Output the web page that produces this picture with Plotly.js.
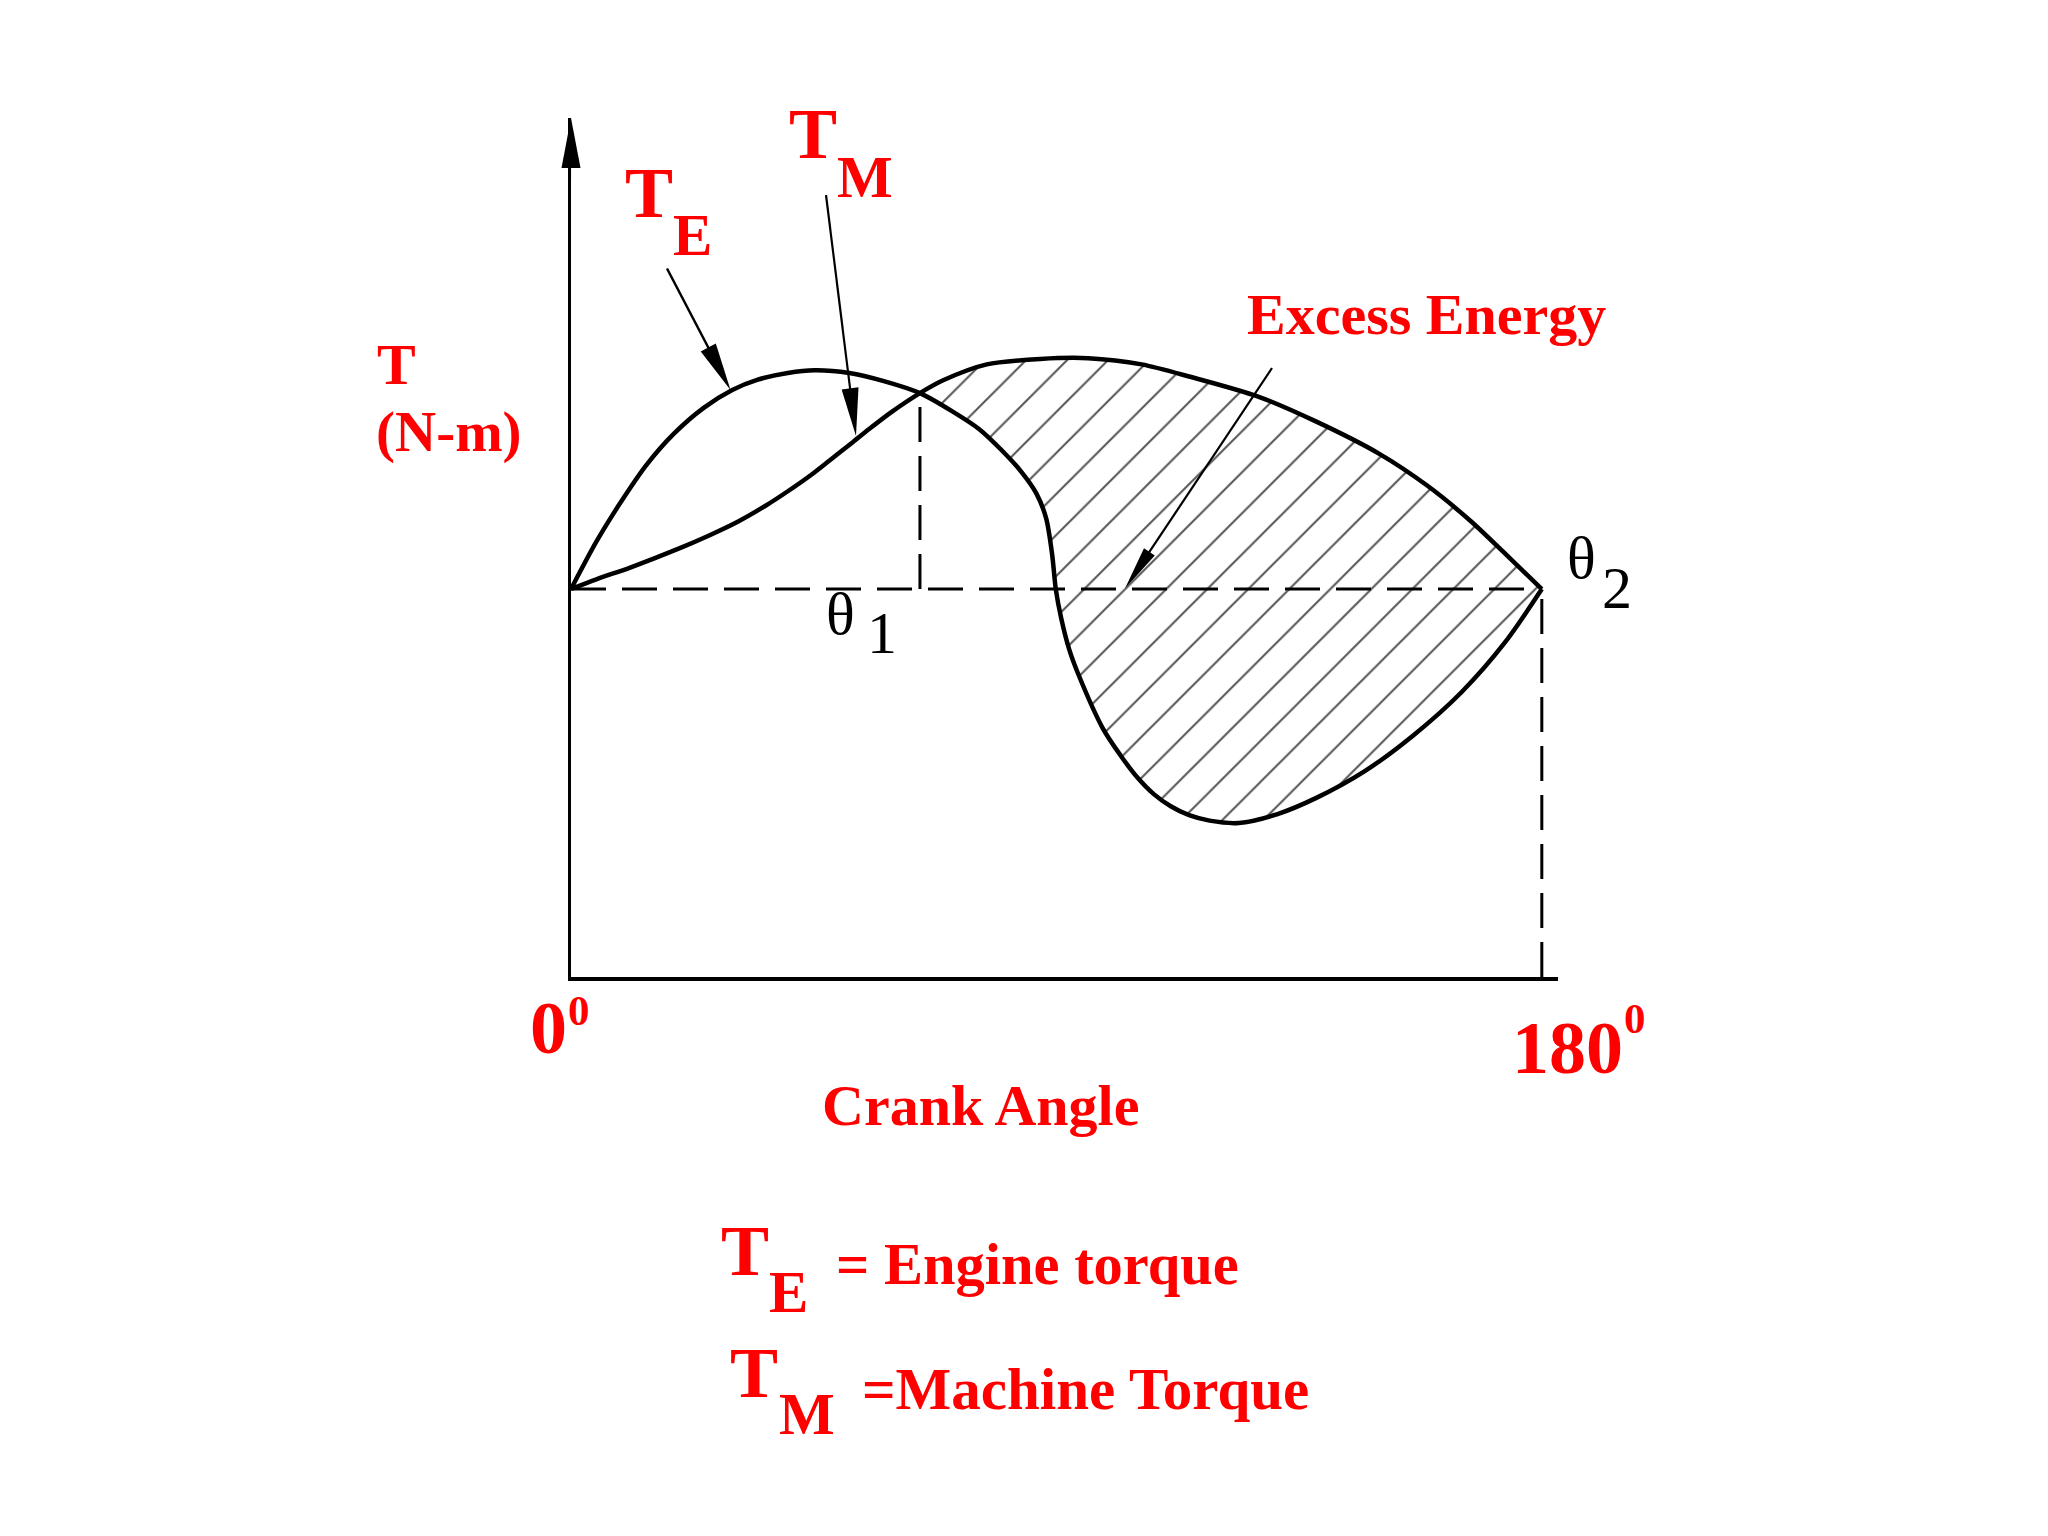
<!DOCTYPE html>
<html>
<head>
<meta charset="utf-8">
<script src="https://cdn.plot.ly/plotly-3.0.1.min.js"></script>
<style>html,body{margin:0;padding:0;background:#fff;}</style>
</head>
<body>
<div id="chart" style="width:2048px;height:1536px;"></div>
<script>
// ---- data (crank angle in degrees, torque in arbitrary N-m units, mean torque = 100) ----
const crankAngleTE = [0, 4.7, 9.0, 14.0, 18.9, 24.6, 29.9, 34.5, 40.2, 45.2, 51.6, 58.0, 64.7, 70.7, 75.7, 79.9, 83.5, 86.3, 88.1, 89.2, 89.9, 90.9, 92.4, 94.1, 98.6, 101.8, 104.9, 108.0, 111.2, 114.6, 118.4, 123.8, 131.0, 138.1, 147.1, 156.1, 165.1, 173.2, 180];
const torqueTE     = [100, 112.2, 121.9, 132.0, 139.8, 146.7, 151.3, 153.9, 155.7, 156.4, 155.7, 153.6, 150.5, 145.8, 141.2, 135.7, 130.2, 124.6, 118.2, 109.0, 99.8, 92.4, 84.3, 77.9, 64.1, 57.3, 51.6, 47.2, 44.0, 41.7, 40.3, 39.7, 42.0, 46.1, 53.0, 62.2, 73.4, 86.3, 100];
const crankAngleTM = [0, 4.7, 11.1, 20.3, 25.3, 31.0, 36.0, 40.2, 44.5, 48.0, 52.3, 55.8, 59.4, 64.7, 69.0, 77.1, 87.0, 95.9, 105.8, 114.8, 127.4, 138.1, 149.8, 158.8, 166.9, 173.2, 180];
const torqueTM     = [100, 102.5, 105.6, 110.6, 113.6, 117.4, 121.4, 125.2, 129.4, 133.2, 137.9, 141.8, 145.6, 150.5, 153.8, 157.9, 159.3, 159.5, 157.9, 154.7, 149.6, 143.2, 134.9, 126.6, 117.4, 109.1, 100];
const meanTorque = 100;
const theta1 = 64.7;
const theta2 = 180;
const axisMax = [183, 221.4];   // x (deg), y (torque)

// ---- layout geometry (pixels) ----
const L = 571, TOP = 118, W = 987, H = 859;
const px = p => (p - L) / W;          // pixel x -> paper
const py = p => (TOP + H - p) / H;    // pixel y -> paper

const font = 'Liberation Serif';
const RED = '#ff0000';

// hatched (excess energy) region built from the data
const hatchX = [], hatchY = [];
crankAngleTM.forEach((a, i) => { if (a >= theta1) { hatchX.push(a); hatchY.push(torqueTM[i]); } });
for (let i = crankAngleTE.length - 1; i >= 0; i--) {
  if (crankAngleTE[i] >= theta1) { hatchX.push(crankAngleTE[i]); hatchY.push(torqueTE[i]); }
}
const crossTorque = torqueTM[crankAngleTM.indexOf(theta1)];

const traces = [
  { x: hatchX, y: hatchY, mode: 'lines', fill: 'toself', line: { width: 0, shape: 'spline', smoothing: 0.8 },
    fillcolor: 'rgba(0,0,0,0)',
    fillpattern: { shape: '/', size: 29, solidity: 0.07, fgcolor: '#555555', bgcolor: 'rgba(0,0,0,0)' } },
  { x: [0, theta2], y: [meanTorque, meanTorque], mode: 'lines', line: { color: '#000', width: 3, dash: '35px,16px' } },
  { x: [theta1, theta1], y: [meanTorque, crossTorque], mode: 'lines', line: { color: '#000', width: 3, dash: '35px,14px' } },
  { x: [theta2, theta2], y: [0, meanTorque], mode: 'lines', line: { color: '#000', width: 3, dash: '35px,14px' } },
  { x: crankAngleTE, y: torqueTE, mode: 'lines', line: { color: '#000', width: 4.5, shape: 'spline', smoothing: 0.8 } },
  { x: crankAngleTM, y: torqueTM, mode: 'lines', line: { color: '#000', width: 4.5, shape: 'spline', smoothing: 0.8 } }
];

function ann(text, left, center, size, color, weight) {
  return { xref: 'paper', yref: 'paper', x: px(left), y: py(center), xanchor: 'left', yanchor: 'middle',
           showarrow: false, text: text, borderpad: 0,
           font: { family: font, size: size, color: color, weight: weight } };
}

const annotations = [
  ann('T', 624, 193.5, 72, RED, 700),
  ann('E', 672, 234.5, 59, RED, 700),
  ann('T', 788, 134.5, 72, RED, 700),
  ann('M', 836, 177, 59, RED, 700),
  ann('Excess Energy', 1246, 314.5, 58, RED, 700),
  ann('T', 376, 364.5, 58, RED, 700),
  ann('(N-m)', 375, 432, 57, RED, 700),
  ann('0', 529, 1028, 74, RED, 700),
  ann('0', 567, 1010.5, 43, RED, 700),
  ann('180', 1511, 1047.5, 74, RED, 700),
  ann('0', 1623, 1018, 43, RED, 700),
  ann('Crank Angle', 821, 1105, 58, RED, 700),
  ann('T', 720, 1251, 72, RED, 700),
  ann('E', 768, 1291.5, 59, RED, 700),
  ann('= Engine torque', 835, 1264.5, 58.5, RED, 700),
  ann('T', 729, 1373, 72, RED, 700),
  ann('M', 778, 1414, 59, RED, 700),
  ann('=Machine Torque', 861, 1388.5, 59, RED, 700),
  ann('θ', 825, 613.5, 60, '#000', 400),
  ann('1', 866, 633, 60, '#000', 400),
  ann('θ', 1566, 557.5, 60, '#000', 400),
  ann('2', 1601, 588, 60, '#000', 400)
];

// arrows drawn as shapes in paper coordinates (pixel positions converted)
const shapes = [];
function arrow(x0, y0, x1, y1, len, width, lw) {
  const dx = x1 - x0, dy = y1 - y0, d = Math.hypot(dx, dy);
  const ux = dx / d, uy = dy / d;
  const bx = x1 - ux * len, by = y1 - uy * len;
  const nx = -uy * width / 2, ny = ux * width / 2;
  shapes.push({ type: 'line', xref: 'paper', yref: 'paper', x0: px(x0), y0: py(y0), x1: px(bx + ux * 4), y1: py(by + uy * 4),
                line: { color: '#000', width: lw } });
  shapes.push({ type: 'path', xref: 'paper', yref: 'paper', fillcolor: '#000', line: { width: 0 },
                path: `M${px(x1)},${py(y1)} L${px(bx + nx)},${py(by + ny)} L${px(bx - nx)},${py(by - ny)} Z` });
}
arrow(571, 180, 571, 118, 50, 19, 0.1);          // y-axis arrow head
arrow(667, 268.5, 730.5, 390, 48, 17, 2.5);      // T_E pointer
arrow(826, 195, 856, 436, 48, 17, 2.2);          // T_M pointer
arrow(1272, 368, 1125, 588.5, 44, 13, 2.2);      // Excess energy pointer

const axisCommon = { showgrid: false, zeroline: false, showticklabels: false, ticks: '',
                     showline: true, linecolor: '#000', linewidth: 3.5, fixedrange: true };

const layout = {
  width: 2048, height: 1536, autosize: false,
  margin: { l: L, r: 2048 - L - W, t: TOP, b: 1536 - TOP - H, pad: 0 },
  paper_bgcolor: '#ffffff', plot_bgcolor: '#ffffff',
  showlegend: false, hovermode: false,
  xaxis: Object.assign({ range: [0, axisMax[0]] }, axisCommon),
  yaxis: Object.assign({ range: [0, axisMax[1]] }, axisCommon),
  annotations: annotations,
  shapes: shapes
};

Plotly.newPlot('chart', traces, layout, { staticPlot: true, displayModeBar: false });
</script>
</body>
</html>
